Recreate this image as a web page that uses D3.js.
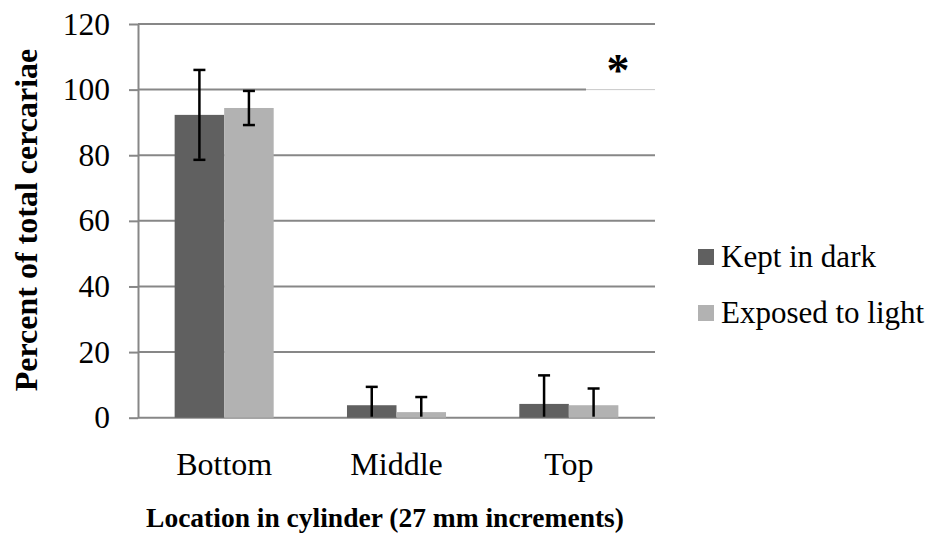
<!DOCTYPE html>
<html>
<head>
<meta charset="utf-8">
<script src="https://cdnjs.cloudflare.com/ajax/libs/d3/7.8.5/d3.min.js"></script>
<style>
  body { margin: 0; background: #fff; }
  svg { display: block; }
</style>
</head>
<body>
<div class="chart"></div>
<script>
// Values
var categories = ["Bottom", "Middle", "Top"];
var seriesNames = ["Kept in dark", "Exposed to light"];
var darkValues = [92.3, 3.8, 4.2];
var darkErrors = [13.7, 5.6, 8.7];
var lightValues = [94.4, 1.7, 3.8];
var lightErrors = [5.2, 4.6, 5.1];
var yTicks = [0, 20, 40, 60, 80, 100, 120];

var width = 934, height = 537;
var plot = { left: 138, right: 655, top: 24, bottom: 417.7 };
var colors = ["#606060", "#b2b2b2"];
var gridColor = "#878787";
var serifFont = "Liberation Serif";

function makeChart() {
  var svg = d3.select(".chart").append("svg")
    .attr("width", width)
    .attr("height", height)
    .attr("font-family", serifFont);

  var y = d3.scaleLinear()
    .domain([0, 120])
    .range([plot.bottom, plot.top]);

  var x0 = d3.scaleBand()
    .domain(categories)
    .range([plot.left, plot.right])
    .padding(0);

  var x1 = d3.scaleBand()
    .domain(seriesNames)
    .range([0, x0.bandwidth()])
    .paddingInner(0)
    .paddingOuter(0.74);

  // Horizontal gridlines
  svg.append("g").selectAll("line")
    .data(yTicks)
    .enter().append("line")
    .attr("x1", plot.left)
    .attr("x2", plot.right)
    .attr("y1", function(d) { return y(d); })
    .attr("y2", function(d) { return y(d); })
    .attr("stroke", gridColor)
    .attr("stroke-width", 2);

  // Left axis with outside tick marks
  var yAxis = svg.append("g")
    .attr("transform", "translate(" + plot.left + ",0)")
    .call(d3.axisLeft(y).tickValues(yTicks).tickSize(9).tickSizeOuter(0).tickPadding(19));
  yAxis.attr("font-family", serifFont).attr("font-size", 31.5);
  yAxis.select(".domain").attr("stroke", gridColor).attr("stroke-width", 2);
  yAxis.selectAll(".tick line").attr("stroke", gridColor).attr("stroke-width", 2);
  yAxis.selectAll(".tick text")
    .attr("fill", "#000")
    .attr("font-family", serifFont)
    .attr("font-size", 31.5);

  // Bars, one group per category
  var rows = categories.map(function(c, i) {
    return [
      { cat: c, series: seriesNames[0], value: darkValues[i], err: darkErrors[i], color: colors[0] },
      { cat: c, series: seriesNames[1], value: lightValues[i], err: lightErrors[i], color: colors[1] }
    ];
  });

  var groups = svg.append("g").selectAll("g")
    .data(rows)
    .enter().append("g")
    .attr("transform", function(d) { return "translate(" + x0(d[0].cat) + ",0)"; });

  groups.selectAll("rect")
    .data(function(d) { return d; })
    .enter().append("rect")
    .attr("x", function(d) { return x1(d.series); })
    .attr("width", x1.bandwidth())
    .attr("y", function(d) { return y(d.value); })
    .attr("height", function(d) { return y(0) - y(d.value); })
    .attr("fill", function(d) { return d.color; });

  // Error bars (lower half is cut off at the axis)
  var capHalf = 6;
  function mid(d) { return x1(d.series) + x1.bandwidth() / 2; }
  var err = groups.selectAll(".err")
    .data(function(d) { return d; })
    .enter().append("g")
    .attr("class", "err")
    .attr("stroke", "#000")
    .attr("stroke-width", 2.5);

  err.append("line")
    .attr("x1", mid)
    .attr("x2", mid)
    .attr("y1", function(d) { return y(d.value + d.err); })
    .attr("y2", function(d) { return y(Math.max(0, d.value - d.err)) - 1; });

  err.append("line")
    .attr("x1", function(d) { return mid(d) - capHalf; })
    .attr("x2", function(d) { return mid(d) + capHalf; })
    .attr("y1", function(d) { return y(d.value + d.err); })
    .attr("y2", function(d) { return y(d.value + d.err); });

  err.filter(function(d) { return d.value - d.err > 0; })
    .append("line")
    .attr("x1", function(d) { return mid(d) - capHalf; })
    .attr("x2", function(d) { return mid(d) + capHalf; })
    .attr("y1", function(d) { return y(d.value - d.err); })
    .attr("y2", function(d) { return y(d.value - d.err); });

  // Category labels under the plot
  svg.append("g").selectAll("text")
    .data(categories)
    .enter().append("text")
    .attr("x", function(d) { return x0(d) + x0.bandwidth() / 2; })
    .attr("y", 475)
    .attr("text-anchor", "middle")
    .attr("font-family", serifFont)
    .attr("font-size", 32)
    .text(function(d) { return d; });

  // Axis titles
  svg.append("text")
    .attr("x", 385)
    .attr("y", 527)
    .attr("text-anchor", "middle")
    .attr("font-family", serifFont)
    .attr("font-weight", "bold")
    .attr("font-size", 27.5)
    .text("Location in cylinder (27 mm increments)");

  svg.append("text")
    .attr("transform", "translate(37,220) rotate(-90)")
    .attr("text-anchor", "middle")
    .attr("font-family", serifFont)
    .attr("font-weight", "bold")
    .attr("font-size", 32)
    .text("Percent of total cercariae");

  // Asterisk text box sitting over the 100 gridline
  var box = svg.append("g");
  box.append("rect")
    .attr("x", 586)
    .attr("y", 40)
    .attr("width", 70)
    .attr("height", y(100) - 40 + 1.5)
    .attr("fill", "#fff");
  box.append("line")
    .attr("x1", 586)
    .attr("x2", 655)
    .attr("y1", y(100))
    .attr("y2", y(100))
    .attr("stroke", "#c8c8c8")
    .attr("stroke-width", 1);
  box.append("text")
    .attr("x", 618)
    .attr("y", 86)
    .attr("text-anchor", "middle")
    .attr("font-family", serifFont)
    .attr("font-weight", "bold")
    .attr("font-size", 46)
    .text("*");

  // Legend
  var legend = svg.append("g").selectAll("g")
    .data(seriesNames)
    .enter().append("g")
    .attr("transform", function(d, i) { return "translate(698," + (249 + i * 56) + ")"; });

  legend.append("rect")
    .attr("width", 16)
    .attr("height", 16)
    .attr("fill", function(d, i) { return colors[i]; });

  legend.append("text")
    .attr("x", 23)
    .attr("y", 18)
    .attr("font-family", serifFont)
    .attr("font-size", 31)
    .text(function(d) { return d; });
}
makeChart();
</script>
</body>
</html>
